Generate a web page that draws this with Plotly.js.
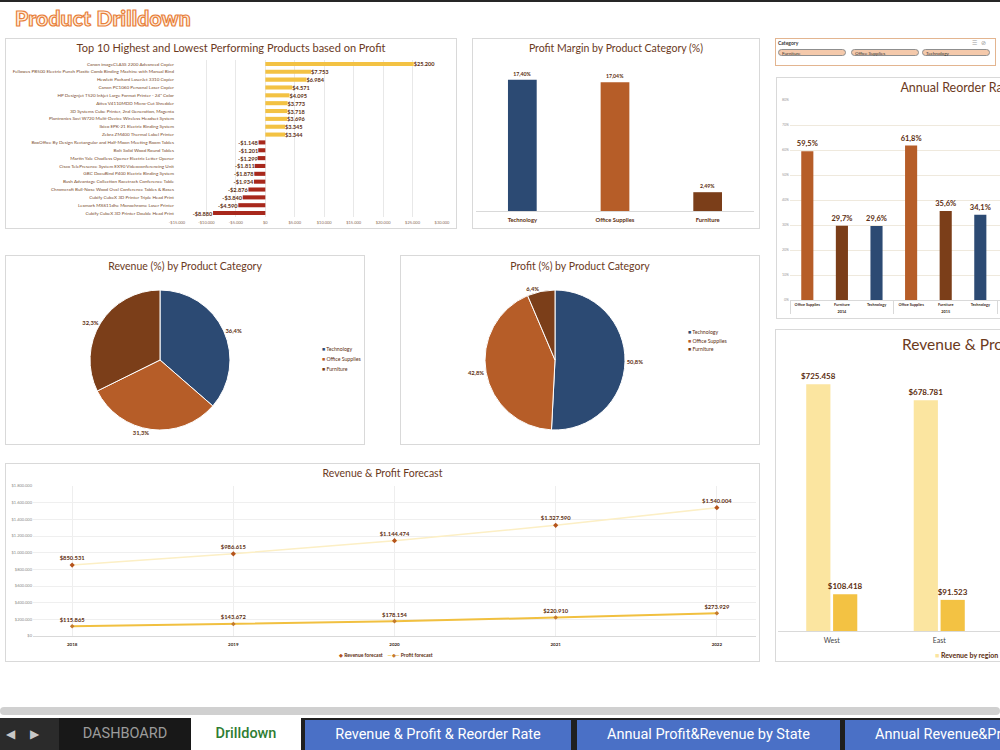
<!DOCTYPE html>
<html>
<head>
<meta charset="utf-8">
<script src="https://cdn.plot.ly/plotly-3.0.1.min.js"></script>
<style>
  html, body { margin: 0; padding: 0; background: #fff; overflow: hidden; }
  #sheet { position: relative; width: 1000px; height: 750px; overflow: hidden; background: #fff;
           font-family: Lato, "Open Sans", sans-serif; }
  .panel { position: absolute; border: 1px solid #d9d9d9; background: #fff; }
  #topline { position: absolute; left: 0; top: 0; width: 1000px; height: 2px; background: #262626; }
  #heading { position: absolute; left: 15px; top: 5px; font-size: 21px; font-weight: 900; letter-spacing: 0.2px;
             color: #fff1e2; -webkit-text-stroke: 1.2px #e8803a; }
  #slicer { position: absolute; left: 775px; top: 38px; width: 219px; height: 26px;
            border: 1px solid #e3b590; background: #fff; }
  #slicer .sl-title { position: absolute; left: 2px; top: 1px; font-size: 5px; font-weight: 700; color: #333; }
  #slicer .sl-icons { position: absolute; right: 5px; top: 0px; font-size: 6px; color: #999; letter-spacing: 4px; }
  #slicer .sl-btn { position: absolute; top: 10px; width: 68px; height: 7px; line-height: 7px; font-size: 4.6px;
                    color: #333; background: #f4c9ab; border: 1px solid #8f8f8f; border-radius: 5px;
                    box-sizing: border-box; padding-left: 3px; }
  #scroll { position: absolute; left: 0; top: 707px; width: 1000px; height: 8px; background: #d0d0d0; border-radius: 4px; }
  #tabbar { position: absolute; left: 0; top: 718px; width: 1000px; height: 32px; background: #1f1f1f;
            font-family: Roboto, "Liberation Sans", sans-serif; }
  #tabbar .tab { position: absolute; top: 0; height: 32px; line-height: 32px; text-align: center; font-size: 14.5px; }
  #tabbar .arrows { position: absolute; left: 0; top: 0; width: 59px; height: 32px; background: #2b2b2b;
                    color: #c8c8c8; font-size: 12px; line-height: 32px; }
  #tabbar .arrows span { position: absolute; top: 0; }
  #tabbar .dash { left: 59px; width: 132px; background: #181818; color: #9c9c9c; }
  #tabbar .active { left: 191px; width: 110px; background: #fff; color: #2e7d32; font-weight: 500; }
  #tabbar .blue { top: 2px; height: 30px; line-height: 30px; background: #4a70c6; color: #fff; }
</style>
</head>
<body>
<div id="sheet">
  <div id="topline"></div>
  <div id="heading">Product Drilldown</div>

  <div class="panel" id="topTen"></div>
  <div class="panel" id="margin"></div>
  <div id="slicer">
    <div class="sl-title">Category</div>
    <div class="sl-icons">☰⊘</div>
    <div class="sl-btn" style="left:2px">Furniture</div>
    <div class="sl-btn" style="left:75px">Office Supplies</div>
    <div class="sl-btn" style="left:146px">Technology</div>
  </div>
  <div class="panel" id="reorder"></div>
  <div class="panel" id="revPie"></div>
  <div class="panel" id="profitPie"></div>
  <div class="panel" id="forecast"></div>
  <div class="panel" id="region"></div>

  <div id="scroll"></div>
  <div id="tabbar">
    <div class="arrows"><span style="left:6px">◀</span><span style="left:30px">▶</span></div>
    <div class="tab dash">DASHBOARD</div>
    <div class="tab active">Drilldown</div>
    <div class="tab blue" style="left:305px;width:266px">Revenue &amp; Profit &amp; Reorder Rate</div>
    <div class="tab blue" style="left:577px;width:263px">Annual Profit&amp;Revenue by State</div>
    <div class="tab blue" style="left:845px;width:300px;text-align:left;padding-left:30px">Annual Revenue&amp;Profit by Region</div>
  </div>
</div>

<script>
// ---- data ----
const topProducts = [
  'Canon imageCLASS 2200 Advanced Copier',
  'Fellowes PB500 Electric Punch Plastic Comb Binding Machine with Manual Bind',
  'Hewlett Packard LaserJet 3310 Copier',
  'Canon PC1060 Personal Laser Copier',
  'HP Designjet T520 Inkjet Large Format Printer - 24" Color',
  'Ativa V4110MDD Micro-Cut Shredder',
  '3D Systems Cube Printer, 2nd Generation, Magenta',
  'Plantronics Savi W720 Multi-Device Wireless Headset System',
  'Ibico EPK-21 Electric Binding System',
  'Zebra ZM400 Thermal Label Printer',
  'BoxOffice By Design Rectangular and Half-Moon Meeting Room Tables',
  'Bolt Solid Wood Round Tables',
  'Martin Yale Chadless Opener Electric Letter Opener',
  'Cisco TelePresence System EX90 Videoconferencing Unit',
  'GBC DocuBind P400 Electric Binding System',
  'Bush Advantage Collection Racetrack Conference Table',
  'Chromcraft Bull-Nose Wood Oval Conference Tables & Bases',
  'Cubify CubeX 3D Printer Triple Head Print',
  'Lexmark MX611dhe Monochrome Laser Printer',
  'Cubify CubeX 3D Printer Double Head Print'
];
const topProfit = [25200, 7753, 6984, 4571, 4095, 3773, 3718, 3696, 3345, 3344,
                   -1148, -1201, -1299, -1811, -1878, -1934, -2876, -3840, -4590, -8880];
const topTicks = [-15000, -10000, -5000, 0, 5000, 10000, 15000, 20000, 25000, 30000];

const categories = ['Technology', 'Office Supplies', 'Furniture'];
const profitMargin = [17.40, 17.04, 2.49];
const revenueShare = [36.4, 31.3, 32.3];
const profitShare = [50.8, 42.8, 6.4];

const reorderYears = ['2014', '2014', '2014', '2015', '2015', '2015'];
const reorderCats = ['Office Supplies', 'Furniture', 'Technology', 'Office Supplies', 'Furniture', 'Technology'];
const reorderRate = [59.5, 29.7, 29.6, 61.8, 35.6, 34.1];
const reorderTicks = [0, 10, 20, 30, 40, 50, 60, 70, 80];

const forecastYears = ['2018', '2019', '2020', '2021', '2022'];
const revenueForecast = [850531, 986615, 1144474, 1327590, 1540004];
const profitForecast = [115865, 143672, 178154, 220910, 273929];
const forecastTicks = [0, 200000, 400000, 600000, 800000, 1000000, 1200000, 1400000, 1600000, 1800000];

const regions = ['West', 'East'];
const regionRevenue = [725458, 678781];
const regionProfit = [108418, 91523];

// ---- styling helpers ----
const FONT = 'Lato, "Open Sans", sans-serif';
const TITLE = '#6b3a1d';
const LABEL = '#5c2e10';
const TECH = '#2c4a73', OFFICE = '#b65d28', FURN = '#7b3e19';
const catColor = { 'Technology': TECH, 'Office Supplies': OFFICE, 'Furniture': FURN };
const GOLD = '#f3c243', PALE = '#fbe5a0', LOSS = '#a8281c';

function fmtMoney(v) {
  const s = Math.abs(Math.round(v)).toString().replace(/\B(?=(\d{3})+(?!\d))/g, '.');
  return (v < 0 ? '-' : '') + '$' + s;
}
function fmtPct(v, d) { return v.toFixed(d).replace('.', ',') + '%'; }

function place(id, x, y, w, h) {
  const el = document.getElementById(id);
  el.style.left = x + 'px'; el.style.top = y + 'px';
  el.style.width = (w - 2) + 'px'; el.style.height = (h - 2) + 'px';
  return { w: w - 2, h: h - 2 };
}
function titleAt(text, size, yPx, H) {
  return { text: text, font: { family: FONT, size: size, color: TITLE },
           x: 0.5, xref: 'container', xanchor: 'center',
           y: 1 - yPx / H, yref: 'container', yanchor: 'middle' };
}
const cfg = { staticPlot: true, displayModeBar: false };

// ---- top / bottom products by profit ----
(function () {
  const s = place('topTen', 5, 38, 452, 191);
  Plotly.newPlot('topTen', [{
    type: 'bar', orientation: 'h', y: topProducts, x: topProfit,
    marker: { color: topProfit.map(v => v >= 0 ? GOLD : LOSS) },
    text: topProfit.map(fmtMoney), textposition: 'outside', cliponaxis: false, constraintext: 'none',
    textfont: { family: FONT, size: 5.6, color: LABEL, weight: 'bold' }
  }], {
    width: s.w, height: s.h, margin: { l: 171, r: 14, t: 21, b: 11 },
    title: titleAt('Top 10 Highest and Lowest Performing Products based on Profit', 11, 9, s.h),
    bargap: 0.48, showlegend: false, paper_bgcolor: '#fff', plot_bgcolor: '#fff',
    font: { family: FONT },
    xaxis: { range: [-15000, 30000], tickvals: topTicks, ticktext: topTicks.map(fmtMoney),
             tickfont: { size: 4, color: '#8a6a55' }, showgrid: true, gridcolor: '#e8e8e8',
             zeroline: false, showline: false, ticks: '', ticklabelstandoff: 2 },
    yaxis: { autorange: 'reversed', tickfont: { size: 4.6, color: '#7a4b2c' }, showgrid: false,
             ticks: '', automargin: false, ticklabelstandoff: 2 }
  }, cfg);
})();

// ---- profit margin by category ----
(function () {
  const s = place('margin', 472, 38, 288, 191);
  Plotly.newPlot('margin', [{
    type: 'bar', x: categories, y: profitMargin,
    marker: { color: categories.map(c => catColor[c]) },
    text: profitMargin.map(v => fmtPct(v, 2)), textposition: 'outside', cliponaxis: false, constraintext: 'none',
    textfont: { family: FONT, size: 5.2, color: LABEL, weight: 'bold' }
  }], {
    width: s.w, height: s.h, margin: { l: 3, r: 5, t: 21, b: 17 },
    title: titleAt('Profit Margin by Product Category (%)', 10.5, 9, s.h),
    bargap: 0.69, showlegend: false, paper_bgcolor: '#fff', plot_bgcolor: '#fff',
    font: { family: FONT },
    xaxis: { showline: true, linecolor: '#d9d9d9', ticks: '', tickangle: 0,
             tickfont: { size: 5.8, color: LABEL, weight: 'bold' }, ticklabelstandoff: 3 },
    yaxis: { range: [0, 20], visible: false }
  }, cfg);
})();

// ---- annual reorder rate ----
(function () {
  const s = place('reorder', 776, 77, 362, 242);
  Plotly.newPlot('reorder', [{
    type: 'bar', x: [reorderYears, reorderCats], y: reorderRate,
    marker: { color: reorderCats.map(c => catColor[c]) },
    text: reorderRate.map(v => fmtPct(v, 1)), textposition: 'outside', cliponaxis: false, constraintext: 'none',
    textfont: { family: FONT, size: 7.5, color: LABEL, weight: 'bold' }
  }], {
    width: s.w, height: s.h, margin: { l: 13, r: 1, t: 22, b: 18 },
    title: titleAt('Annual Reorder Rate', 12.5, 10, s.h),
    bargap: 0.65, showlegend: false, paper_bgcolor: '#fff', plot_bgcolor: '#fff',
    font: { family: FONT },
    xaxis: { type: 'multicategory', range: [-0.5, 9.5], showline: true, linecolor: '#d9d9d9',
             showdividers: true, dividercolor: '#d9d9d9', ticks: '', tickangle: 0, automargin: false,
             ticklabelstandoff: 0,
             tickfont: { size: 3.8, color: '#3a2a20', weight: 'bold' } },
    yaxis: { range: [0, 80], tickvals: reorderTicks, ticktext: reorderTicks.map(v => v + '%'),
             tickfont: { size: 3.6, color: '#9a9a9a' }, gridcolor: '#efe9dd', zeroline: false, ticks: '' }
  }, cfg);
})();

// ---- category share pies ----
function pie(id, x, values, title, legendX, legendY) {
  const s = place(id, x, 255, 360, 190);
  const ann = categories.map((c, i) => ({
    text: '<span style="color:' + catColor[c] + '">■</span> ' + c,
    xref: 'paper', yref: 'paper', x: legendX / s.w, y: 1 - legendY[i] / s.h,
    xanchor: 'left', yanchor: 'middle', showarrow: false,
    font: { family: FONT, size: 5.2, color: LABEL }
  }));
  Plotly.newPlot(id, [{
    type: 'pie', labels: categories, values: values, sort: false, direction: 'clockwise', rotation: 0,
    marker: { colors: categories.map(c => catColor[c]), line: { color: '#fff', width: 1 } },
    text: values.map(v => fmtPct(v, 1)), textinfo: 'text', textposition: 'outside',
    textfont: { family: FONT, size: 5.8, color: LABEL, weight: 'bold' },
    domain: { x: [84 / s.w, 224 / s.w], y: [14 / s.h, 154 / s.h] }, automargin: false
  }], {
    width: s.w, height: s.h, margin: { l: 0, r: 0, t: 0, b: 0 },
    title: titleAt(title, 10.5, 10, s.h),
    showlegend: false, paper_bgcolor: '#fff', font: { family: FONT }, annotations: ann
  }, cfg);
}
pie('revPie', 5, revenueShare, 'Revenue (%) by Product Category', 314, [93, 103, 113]);
pie('profitPie', 400, profitShare, 'Profit (%) by Product Category', 285, [76, 84.5, 93]);

// ---- revenue & profit forecast ----
(function () {
  const s = place('forecast', 5, 463, 755, 199);
  Plotly.newPlot('forecast', [
    { type: 'scatter', mode: 'lines+markers+text', name: 'Revenue forecast', x: forecastYears, y: revenueForecast,
      line: { color: '#fcefc5', width: 1.5 }, marker: { color: '#b5541b', size: 4, symbol: 'diamond' },
      text: revenueForecast.map(fmtMoney), textposition: 'top center', cliponaxis: false,
      textfont: { family: FONT, size: 5.8, color: LABEL, weight: 'bold' } },
    { type: 'scatter', mode: 'lines+markers+text', name: 'Profit forecast', x: forecastYears, y: profitForecast,
      line: { color: '#f1c040', width: 2 }, marker: { color: '#c47a2c', size: 3.5, symbol: 'diamond' },
      text: profitForecast.map(fmtMoney), textposition: 'top center', cliponaxis: false,
      textfont: { family: FONT, size: 5.8, color: LABEL, weight: 'bold' } }
  ], {
    width: s.w, height: s.h, margin: { l: 27, r: 3, t: 22, b: 25 },
    title: titleAt('Revenue &amp; Profit Forecast', 10.5, 9, s.h),
    showlegend: false, paper_bgcolor: '#fff', plot_bgcolor: '#fff', font: { family: FONT },
    xaxis: { type: 'category', showline: true, linecolor: '#d9d9d9', ticks: '',
             tickfont: { size: 4.5, color: '#3a2a20', weight: 'bold' }, ticklabelstandoff: 4 },
    yaxis: { range: [0, 1800000], tickvals: forecastTicks, ticktext: forecastTicks.map(fmtMoney),
             tickfont: { size: 4, color: '#8a8a8a' }, gridcolor: '#efefef', zeroline: false, ticks: '' },
    annotations: [{
      text: '<span style="color:#b5541b">◆</span> Revenue forecast    <span style="color:#f1c040">—</span><span style="color:#c47a2c">◆</span><span style="color:#f1c040">—</span> Profit forecast',
      xref: 'paper', yref: 'paper', x: 0.487, y: 0, yshift: -19, xanchor: 'center', yanchor: 'middle',
      showarrow: false, font: { family: FONT, size: 5, color: LABEL, weight: 'bold' }
    }]
  }, cfg);
})();

// ---- revenue & profit by region ----
(function () {
  const s = place('region', 775, 329, 440, 333);
  const lbl = { family: FONT, size: 8, color: LABEL, weight: 'bold' };
  Plotly.newPlot('region', [
    { type: 'bar', name: 'Revenue by region', x: regions, y: regionRevenue, marker: { color: PALE },
      text: regionRevenue.map(fmtMoney), textposition: 'outside', cliponaxis: false, constraintext: 'none', textfont: lbl },
    { type: 'bar', name: 'Profit by region', x: regions, y: regionProfit, marker: { color: GOLD },
      text: regionProfit.map(fmtMoney), textposition: 'outside', cliponaxis: false, constraintext: 'none', textfont: lbl }
  ], {
    width: s.w, height: s.h, margin: { l: 2, r: 6, t: 29, b: 30 },
    title: titleAt('Revenue &amp; Profit by Region', 15.5, 15, s.h),
    barmode: 'group', bargap: 0.5, bargroupgap: 0.1,
    showlegend: false, paper_bgcolor: '#fff', plot_bgcolor: '#fff', font: { family: FONT },
    xaxis: { range: [-0.5, 3.5], showline: true, linecolor: '#d9d9d9', ticks: '',
             tickfont: { size: 7, color: '#444' }, ticklabelstandoff: 3 },
    yaxis: { range: [0, 800000], visible: false },
    annotations: [{
      text: '<span style="color:' + PALE + '">■</span> Revenue by region    <span style="color:' + GOLD + '">■</span> Profit by region',
      xref: 'paper', yref: 'paper', x: 155 / 430, y: 0, yshift: -24, xanchor: 'left', yanchor: 'middle',
      showarrow: false, font: { family: FONT, size: 7, color: LABEL, weight: 'bold' }
    }]
  }, cfg);
})();
</script>
</body>
</html>
